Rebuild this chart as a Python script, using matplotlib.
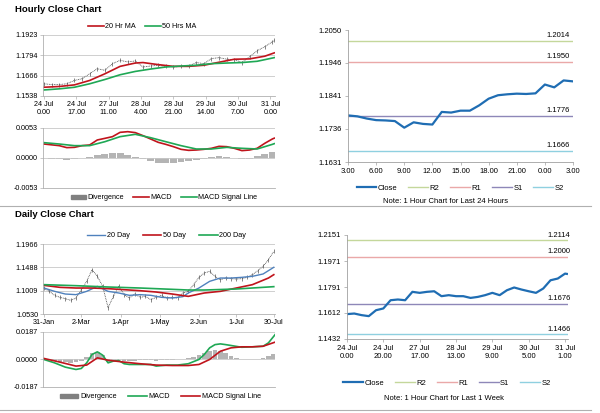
import matplotlib.pyplot as plt
from matplotlib.lines import Line2D
from matplotlib.patches import Patch

plt.rcParams['font.family'] = 'Liberation Sans'
plt.rcParams['font.size'] = 5

# Hourly close chart (last week, hourly bars) ================================
h_idx = [0, 4, 8, 12, 16, 20, 24, 28, 32, 36, 40, 44, 48, 52, 56, 60, 64, 68,
         72, 76, 80, 84, 88, 92, 96, 100, 104, 108, 112, 116, 120, 121]
h_close = [1.1615, 1.1610, 1.1610, 1.1615, 1.1636, 1.1647, 1.1678, 1.1710,
           1.1700, 1.1742, 1.1763, 1.1753, 1.1759, 1.1721, 1.1727, 1.1732,
           1.1725, 1.1721, 1.1725, 1.1727, 1.1749, 1.1742, 1.1774, 1.1780,
           1.1770, 1.1768, 1.1749, 1.1785, 1.1823, 1.1849, 1.1880, 1.1890]
h_ma20_idx = [0, 8, 16, 24, 32, 40, 48, 52, 60, 68, 76, 84, 92, 100, 108, 116, 121]
h_ma20 = [1.1593, 1.1598, 1.1608, 1.1636, 1.1678, 1.1725, 1.1746, 1.1749,
          1.1736, 1.1725, 1.1725, 1.1732, 1.1751, 1.1770, 1.1772, 1.1789, 1.1810]
h_ma50_idx = [0, 8, 16, 24, 32, 40, 48, 56, 64, 72, 80, 88, 96, 104, 112, 121]
h_ma50 = [1.1576, 1.1583, 1.1593, 1.1615, 1.1642, 1.1672, 1.1693, 1.1708,
          1.1721, 1.1727, 1.1732, 1.1742, 1.1746, 1.1749, 1.1757, 1.1780]
h_ticks = [0, 17, 34, 51, 68, 85, 102, 119]
h_ticklabels = ['24 Jul\n0.00', '24 Jul\n17.00', '27 Jul\n11.00', '28 Jul\n4.00',
                '28 Jul\n21.00', '29 Jul\n14.00', '30 Jul\n7.00', '31 Jul\n0.00']
h_yticks = [1.1538, 1.1666, 1.1794, 1.1923]

h_macd_idx = [0, 8, 12, 16, 20, 24, 28, 32, 36, 40, 44, 48, 52, 56, 60, 64, 68,
              72, 76, 80, 84, 88, 92, 96, 100, 104, 108, 112, 116, 120, 121]
h_macd = [0.00247, 0.00218, 0.00183, 0.00188, 0.00218, 0.00230, 0.00318, 0.00347,
          0.00377, 0.00453, 0.00465, 0.00448, 0.00395, 0.00336, 0.00277, 0.00241,
          0.00200, 0.00153, 0.00135, 0.00141, 0.00153, 0.00171, 0.00206, 0.00200,
          0.00171, 0.00130, 0.00141, 0.00171, 0.00259, 0.00336, 0.00350]
h_sig_idx = [0, 8, 16, 24, 32, 40, 48, 56, 64, 72, 80, 88, 96, 104, 112, 120, 121]
h_sig = [0.00271, 0.00247, 0.00218, 0.00218, 0.00288, 0.00377, 0.00418, 0.00359,
         0.00288, 0.00218, 0.00159, 0.00159, 0.00188, 0.00171, 0.00159, 0.00241, 0.00253]
h_div = [0.0000, -0.0001, -0.0002, -0.0003, -0.0001, 0.0000, 0.0002, 0.0006,
         0.0007, 0.0008, 0.0009, 0.0006, 0.0002, -0.0002, -0.0006, -0.0008,
         -0.0008, -0.0008, -0.0007, -0.0005, -0.0003, -0.0001, 0.0001, 0.0003,
         0.0002, 0.0000, -0.0002, -0.0001, 0.0003, 0.0007, 0.0010, 0.0010]
h_macd_yticks = [-0.0053, 0.0000, 0.0053]

# Last 24 hours ===============================================================
d24_close = [1.1779, 1.1776, 1.1769, 1.1764, 1.1763, 1.1761, 1.1740, 1.1757,
             1.1752, 1.1750, 1.1790, 1.1788, 1.1794, 1.1794, 1.1811, 1.1832,
             1.1843, 1.1846, 1.1848, 1.1847, 1.1849, 1.1877, 1.1868, 1.1890, 1.1887]
d24_ticks = [0, 3, 6, 9, 12, 15, 18, 21, 24]
d24_ticklabels = ['3.00', '6.00', '9.00', '12.00', '15.00', '18.00', '21.00', '0.00', '3.00']
d24_yticks = [1.1631, 1.1736, 1.1841, 1.1946, 1.2050]
d24_levels = {'R2': 1.2014, 'R1': 1.1950, 'S1': 1.1776, 'S2': 1.1666}

# Daily close chart ==========================================================
d_idx = list(range(0, 130, 3))
d_close = [1.1063, 1.0995, 1.0913, 1.0872, 1.0845, 1.0810, 1.0858, 1.1029,
           1.1200, 1.1439, 1.1303, 1.1097, 1.0660, 1.0892, 1.1097, 1.0927,
           1.0858, 1.0940, 1.0872, 1.0892, 1.0824, 1.0872, 1.0913, 1.0858,
           1.0872, 1.0858, 1.0961, 1.0995, 1.1132, 1.1282, 1.1371, 1.1405,
           1.1303, 1.1234, 1.1268, 1.1255, 1.1248, 1.1255, 1.1282, 1.1337,
           1.1419, 1.1508, 1.1645, 1.1815]
d_ma20_idx = [0, 6, 12, 18, 24, 30, 36, 42, 48, 54, 60, 66, 72, 78, 81, 87, 93,
              99, 105, 111, 117, 123, 129]
d_ma20 = [1.1063, 1.0995, 1.0940, 1.0927, 1.0995, 1.1097, 1.0995, 1.0961,
          1.0913, 1.0927, 1.0913, 1.0872, 1.0858, 1.0886, 1.0961, 1.1063,
          1.1200, 1.1268, 1.1268, 1.1282, 1.1303, 1.1351, 1.1488]
d_ma50_idx = [0, 9, 18, 27, 36, 45, 54, 63, 72, 81, 90, 99, 108, 117, 126, 129]
d_ma50 = [1.1118, 1.1077, 1.1063, 1.1063, 1.1050, 1.1029, 1.1008, 1.0981,
          1.0940, 1.0892, 1.0961, 1.0995, 1.1063, 1.1132, 1.1268, 1.1337]
d_ma200_idx = [0, 18, 36, 54, 72, 81, 90, 108, 126, 129]
d_ma200 = [1.1132, 1.1111, 1.1084, 1.1063, 1.1036, 1.1022, 1.1022, 1.1043,
           1.1084, 1.1091]
d_ticks = [0, 21, 43, 65, 87, 108, 129]
d_ticklabels = ['31-Jan', '2-Mar', '1-Apr', '1-May', '2-Jun', '1-Jul', '30-Jul']
d_yticks = [1.0530, 1.1009, 1.1488, 1.1966]

d_macd_idx = [0, 6, 12, 18, 21, 24, 27, 30, 33, 36, 39, 42, 45, 48, 54, 60, 63,
              69, 75, 81, 87, 90, 93, 96, 99, 102, 105, 111, 117, 123, 126, 129, 130]
d_macd = [0.0000, -0.0023, -0.0052, -0.0068, -0.0061, -0.0023, 0.0034, 0.0052,
          0.0029, -0.0023, -0.0011, -0.0007, -0.0029, -0.0034, -0.0034, -0.0034,
          -0.0045, -0.0038, -0.0038, -0.0029, 0.0000, 0.0034, 0.0079, 0.0101,
          0.0106, 0.0101, 0.0095, 0.0083, 0.0086, 0.0090, 0.0113, 0.0158, 0.0173]
d_sig_idx = [0, 9, 18, 24, 30, 36, 45, 54, 63, 72, 81, 87, 93, 99, 105, 111, 117,
             123, 130]
d_sig = [0.0007, -0.0018, -0.0045, -0.0038, 0.0011, -0.0005, -0.0018, -0.0029,
         -0.0038, -0.0041, -0.0041, -0.0034, 0.0000, 0.0056, 0.0079, 0.0086,
         0.0086, 0.0090, 0.0119]
d_div = [0.0000, -0.0005, -0.0010, -0.0015, -0.0020, -0.0022, -0.0020, -0.0010,
         0.0015, 0.0045, 0.0050, 0.0030, -0.0015, -0.0010, 0.0005, -0.0008,
         -0.0010, -0.0008, -0.0006, -0.0004, -0.0005, -0.0008, -0.0004, -0.0002,
         -0.0002, 0.0000, 0.0003, 0.0008, 0.0015, 0.0030, 0.0045, 0.0060,
         0.0065, 0.0060, 0.0045, 0.0025, 0.0012, 0.0005, 0.0002, 0.0000,
         0.0002, 0.0010, 0.0025, 0.0040]
d_macd_yticks = [-0.0187, 0.0000, 0.0187]

# Last week, hourly ==========================================================
w_idx = list(range(0, 121, 4)) + [121]
w_close = [1.1604, 1.1608, 1.1597, 1.1590, 1.1631, 1.1643, 1.1700, 1.1705,
           1.1700, 1.1758, 1.1751, 1.1758, 1.1762, 1.1728, 1.1735, 1.1728,
           1.1728, 1.1716, 1.1723, 1.1735, 1.1751, 1.1735, 1.1769, 1.1788,
           1.1774, 1.1762, 1.1751, 1.1781, 1.1838, 1.1850, 1.1884, 1.1882]
w_ticks = [0, 20, 40, 60, 80, 100, 120]
w_ticklabels = ['24 Jul\n0.00', '24 Jul\n20.00', '27 Jul\n17.00', '28 Jul\n13.00',
                '29 Jul\n9.00', '30 Jul\n5.00', '31 Jul\n1.00']
w_yticks = [1.1432, 1.1612, 1.1791, 1.1971, 1.2151]
w_levels = {'R2': 1.2114, 'R1': 1.2000, 'S1': 1.1676, 'S2': 1.1466}

# Colores
RED = '#c0141c'
GREEN = '#1fa855'
BLUE = '#4f81bd'
CLOSE = '#1f6db3'
GREY = '#b4b4b4'
LEVEL_COLORS = {'R2': '#c4d79b', 'R1': '#eaa8a8', 'S1': '#8e87b8', 'S2': '#8fd0e0'}


def left_style(ax, yticks, xlim, fmt='%.4f'):
    ax.set_xlim(*xlim)
    ax.set_ylim(yticks[0], yticks[-1])
    ax.set_yticks(yticks)
    ax.set_yticklabels([fmt % v for v in yticks])
    ax.grid(True, axis='y', color='#c8c8c8', lw=0.6)
    for s in ['top', 'right']:
        ax.spines[s].set_visible(False)
    for s in ['left', 'bottom']:
        ax.spines[s].set_color('#b0b0b0')
        ax.spines[s].set_linewidth(0.6)
    ax.tick_params(length=2, width=0.5, color='#b0b0b0', pad=1.5, labelsize=5.2)


def right_style(ax, yticks, xlim):
    ax.set_xlim(*xlim)
    ax.set_ylim(yticks[0], yticks[-1])
    ax.set_yticks(yticks)
    ax.set_yticklabels(['%.4f' % v for v in yticks])
    for s in ['top', 'right']:
        ax.spines[s].set_visible(False)
    for s in ['left', 'bottom']:
        ax.spines[s].set_color('#a0a0a0')
        ax.spines[s].set_linewidth(0.6)
    ax.tick_params(length=2.5, width=0.5, color='#a0a0a0', pad=2, labelsize=5.5)


def bars(ax, x, y):
    ax.plot(x, y, color='#444444', lw=0.6, ls=(0, (1, 1)))
    ax.plot(x, y, ls='none', marker='|', ms=3.5, mew=0.5, color='#555555')


fig = plt.figure(figsize=(6, 4.13), dpi=100)

fig.text(0.025, 0.978, 'Hourly Close Chart', fontsize=6.8, fontweight='bold', va='center')
fig.text(0.025, 0.480, 'Daily Close Chart', fontsize=6.8, fontweight='bold', va='center')
fig.add_artist(Line2D([0.0, 0.985], [0.501, 0.501], color='#b0b0b0', lw=0.8))
fig.add_artist(Line2D([0.0, 0.985], [0.007, 0.007], color='#b0b0b0', lw=0.8))

# Panel 1: hourly price
ax1 = fig.add_axes([0.0717, 0.7676, 0.387, 0.1477])
bars(ax1, h_idx, h_close)
ax1.plot(h_ma20_idx, h_ma20, color=RED, lw=1.2, label='20 Hr MA')
ax1.plot(h_ma50_idx, h_ma50, color=GREEN, lw=1.2, label='50 Hrs MA')
left_style(ax1, h_yticks, (-0.5, 121.5))
ax1.set_xticks(h_ticks)
ax1.set_xticklabels(h_ticklabels)
ax1.legend(loc='center', bbox_to_anchor=(0.237, 0.935), bbox_transform=fig.transFigure,
           ncol=2, frameon=False, fontsize=5.2, handlelength=2.2, columnspacing=1.2,
           handletextpad=0.2)

# Panel 2: hourly MACD
ax2 = fig.add_axes([0.0717, 0.5448, 0.387, 0.1453])
ax2.bar(h_idx, h_div, width=3.6, color=GREY, label='Divergence')
ax2.plot(h_macd_idx, h_macd, color=RED, lw=1.2, label='MACD')
ax2.plot(h_sig_idx, h_sig, color=GREEN, lw=1.2, label='MACD Signal Line')
left_style(ax2, h_macd_yticks, (-0.5, 121.5))
ax2.set_xticks(h_ticks)
ax2.tick_params(axis='x', length=0, labelbottom=False)
ax2.legend(handles=[Patch(color='#808080', label='Divergence'),
                    Line2D([], [], color=RED, lw=1.2, label='MACD'),
                    Line2D([], [], color=GREEN, lw=1.2, label='MACD Signal Line')],
           loc='center', bbox_to_anchor=(0.273, 0.521), bbox_transform=fig.transFigure,
           ncol=3, frameon=False, fontsize=5.2, handlelength=2.2, handleheight=0.5,
           columnspacing=1.2, handletextpad=0.2)

# Panel 3: last 24 hours
ax3 = fig.add_axes([0.58, 0.6077, 0.375, 0.3196])
for name, lvl in d24_levels.items():
    ax3.axhline(lvl, color=LEVEL_COLORS[name], lw=1.0, label=name)
    ax3.text(23.7, lvl + 0.0006, '%.4f' % lvl, ha='right', va='bottom', fontsize=5.5)
ax3.plot(range(len(d24_close)), d24_close, color=CLOSE, lw=1.6, label='Close')
right_style(ax3, d24_yticks, (0, 24))
ax3.set_xticks(d24_ticks)
ax3.set_xticklabels(d24_ticklabels)
handles = [Line2D([], [], color=CLOSE, lw=1.6, label='Close')] + \
          [Line2D([], [], color=LEVEL_COLORS[n], lw=1.0, label=n) for n in d24_levels]
ax3.legend(handles=handles, loc='center', bbox_to_anchor=(0.767, 0.545),
           bbox_transform=fig.transFigure, ncol=5, frameon=False, fontsize=5.5,
           handlelength=2.6, columnspacing=1.4, handletextpad=0.2)
fig.text(0.742, 0.511, 'Note: 1 Hour Chart for Last 24 Hours', ha='center', va='center',
         fontsize=5.5)

# Panel 4: daily price
ax4 = fig.add_axes([0.0717, 0.2397, 0.387, 0.1695])
bars(ax4, d_idx, d_close)
ax4.plot(d_ma20_idx, d_ma20, color=BLUE, lw=1.0, label='20 Day')
ax4.plot(d_ma50_idx, d_ma50, color=RED, lw=1.2, label='50 Day')
ax4.plot(d_ma200_idx, d_ma200, color=GREEN, lw=1.2, label='200 Day')
left_style(ax4, d_yticks, (-0.5, 129.8))
ax4.set_xticks(d_ticks)
ax4.set_xticklabels(d_ticklabels)
ax4.legend(loc='center', bbox_to_anchor=(0.277, 0.429), bbox_transform=fig.transFigure,
           ncol=3, frameon=False, fontsize=5.2, handlelength=2.6, columnspacing=1.8,
           handletextpad=0.2)

# Panel 5: daily MACD
ax5 = fig.add_axes([0.0717, 0.0630, 0.387, 0.1332])
ax5.bar(d_idx, d_div, width=2.6, color=GREY)
ax5.plot(d_macd_idx, d_macd, color=GREEN, lw=1.2)
ax5.plot(d_sig_idx, d_sig, color=RED, lw=1.2)
left_style(ax5, d_macd_yticks, (-0.5, 129.8))
ax5.set_xticks(d_ticks)
ax5.tick_params(axis='x', length=0, labelbottom=False)
ax5.legend(handles=[Patch(color='#808080', label='Divergence'),
                    Line2D([], [], color=GREEN, lw=1.2, label='MACD'),
                    Line2D([], [], color=RED, lw=1.2, label='MACD Signal Line')],
           loc='center', bbox_to_anchor=(0.267, 0.039), bbox_transform=fig.transFigure,
           ncol=3, frameon=False, fontsize=5.2, handlelength=2.6, handleheight=0.5,
           columnspacing=1.6, handletextpad=0.2)

# Panel 6: last week hourly
ax6 = fig.add_axes([0.5783, 0.1792, 0.3683, 0.2518])
for name, lvl in w_levels.items():
    ax6.axhline(lvl, color=LEVEL_COLORS[name], lw=1.0)
    ax6.text(123.0, lvl + 0.001, '%.4f' % lvl, ha='right', va='bottom', fontsize=5.5)
ax6.plot(w_idx, w_close, color=CLOSE, lw=1.6)
right_style(ax6, w_yticks, (0, 121.6))
ax6.set_xticks(w_ticks)
ax6.set_xticklabels(w_ticklabels)
ax6.legend(handles=handles, loc='center', bbox_to_anchor=(0.745, 0.073),
           bbox_transform=fig.transFigure, ncol=5, frameon=False, fontsize=5.5,
           handlelength=2.6, columnspacing=1.4, handletextpad=0.2)
fig.text(0.74, 0.036, 'Note: 1 Hour Chart for Last 1 Week', ha='center', va='center',
         fontsize=5.5)

fig.savefig('out.png', dpi=100)
